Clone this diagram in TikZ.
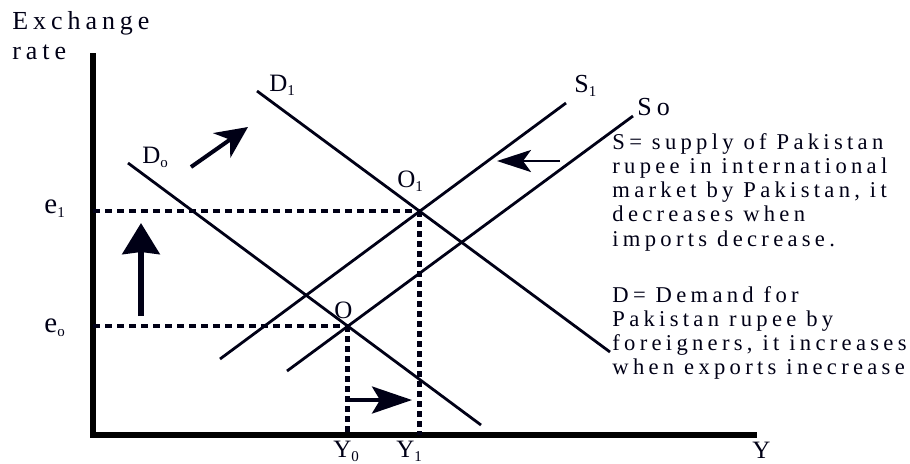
\documentclass[tikz,border=0pt]{standalone}
\usepackage{fontspec}
\setmainfont{Liberation Serif}[LetterSpace=19]
\usetikzlibrary{arrows.meta, calc}
\definecolor{ink}{RGB}{0, 0, 22}
\newcommand{\lsub}[1]{\raisebox{-2pt}{\fontsize{7.5}{8}\selectfont #1}}

\begin{document}
\begin{tikzpicture}[x=0.5pt, y=-0.5pt,
    lbl/.style    = {font=\fontsize{12.5}{14}\selectfont, anchor=base west, inner sep=0pt, color=ink},
    big/.style    = {font=\fontsize{14.5}{16}\selectfont},
    row/.style    = {font=\fontsize{11.3}{13}\selectfont, anchor=base west, inner sep=0pt, color=ink},
    axis/.style   = {line width=3pt, color=black, line join=miter},
    curve/.style  = {line width=1.4pt, color=ink},
    hdot/.style   = {line width=2pt, color=ink, dash pattern=on 3.5pt off 2.5pt},
    vdot/.style   = {line width=2.5pt, color=ink, dash pattern=on 2.75pt off 2.25pt},
  ]
    \useasboundingbox (0,0) rectangle (910,463);
    \def\rs{24.3}  % row spacing

    % ── Axes ──
    \coordinate (ytop)   at (93, 53);
    \coordinate (origin) at (93, 435);
    \coordinate (xend)   at (757, 435);
    \draw[axis] (ytop) -- (origin) -- (xend);
    \node[lbl, font=\fontsize{13}{15}\selectfont] (ylab1) at (12, 29) {Exchange};
    \node[lbl, font=\fontsize{13}{15}\selectfont] (ylab2) at (12, 59) {rate};
    \node[lbl] (xlab)  at (752, 458) {Y};

    % ── Demand and supply lines ──
    \coordinate (d0a) at (128, 163);
    \coordinate (d0b) at (481, 425);
    \coordinate (d1a) at (257, 91);
    \coordinate (d1b) at (610, 352);
    \coordinate (s0a) at (287, 371);
    \coordinate (s0b) at (633, 116);
    \coordinate (s1a) at (220, 359);
    \coordinate (s1b) at (566, 103);
    \draw[curve] (d0a) -- (d0b);
    \draw[curve] (d1a) -- (d1b);
    \draw[curve] (s0a) -- (s0b);
    \draw[curve] (s1a) -- (s1b);

    \node[lbl] (d0lab) at (142, 163) {D\lsub{o}};
    \node[lbl] (d1lab) at (269, 91)  {D\lsub{1}};
    \node[lbl, font=\fontsize{13}{15}\selectfont] (s1lab) at (574, 92)  {S\lsub{1}};
    \node[lbl, font=\fontsize{13}{15}\selectfont] (s0lab) at (637, 115) {So};

    % ── Equilibria ──
    \coordinate (o)  at (intersection of d0a--d0b and s0a--s0b);
    \coordinate (o1) at (intersection of d1a--d1b and s1a--s1b);
    \node[lbl] (olab)  at (334, 318) {O};
    \node[lbl] (o1lab) at (397, 187) {O\lsub{1}};

    \draw[hdot] (o -| origin) -- (o);
    \draw[hdot] (o1 -| origin) -- (o1);
    \draw[vdot] (o) -- (o |- origin);
    \draw[vdot] (o1) -- (o1 |- origin);

    \node[lbl, big] (e1lab) at (44, 213) {e\lsub{1}};
    \node[lbl, big] (e0lab) at (44, 332) {e\lsub{o}};
    \node[lbl] (y0lab) at (333, 457) {Y\lsub{0}};
    \node[lbl] (y1lab) at (396, 457) {Y\lsub{1}};

    % ── Shift arrows ──
    \coordinate (dsa) at (191, 167);
    \coordinate (dsb) at (248, 127);
    \coordinate (ssa) at (560, 161);
    \coordinate (ssb) at (497, 161);
    \coordinate (esa) at (141, 316);
    \coordinate (esb) at (141, 223);
    \coordinate (ysa) at (348, 400);
    \coordinate (ysb) at (412, 400);
    \draw[ink, line width=2pt, -{Stealth[length=16pt, width=15pt, inset=5pt]}] (dsa) -- (dsb);
    \draw[ink, line width=1.3pt, -{Stealth[length=17pt, width=11pt, inset=4pt]}] (ssa) -- (ssb);
    \draw[ink, line width=3pt, -{Stealth[length=15.5pt, width=18.5pt, inset=1pt]}] (esa) -- (esb);
    \draw[ink, line width=1.8pt, -{Stealth[length=20pt, width=13.5pt, inset=4pt]}] (ysa) -- (ysb);

    % ── Notes ──
    \node[row] (sn1) at (612, 149)        {S= supply of Pakistan};
    \node[row] (sn2) at (612, 149+1*\rs)  {rupee in international};
    \node[row] (sn3) at (612, 149+2*\rs)  {market by Pakistan, it};
    \node[row] (sn4) at (612, 149+3*\rs)  {decreases when};
    \node[row] (sn5) at (612, 149+4*\rs)  {imports decrease.};

    \node[row] (dn1) at (612, 302)        {D= Demand for};
    \node[row] (dn2) at (612, 302+1*\rs)  {Pakistan rupee by};
    \node[row] (dn3) at (612, 302+2*\rs)  {foreigners, it increases};
    \node[row] (dn4) at (612, 302+3*\rs)  {when exports inecrease};

  \end{tikzpicture}
\end{document}
